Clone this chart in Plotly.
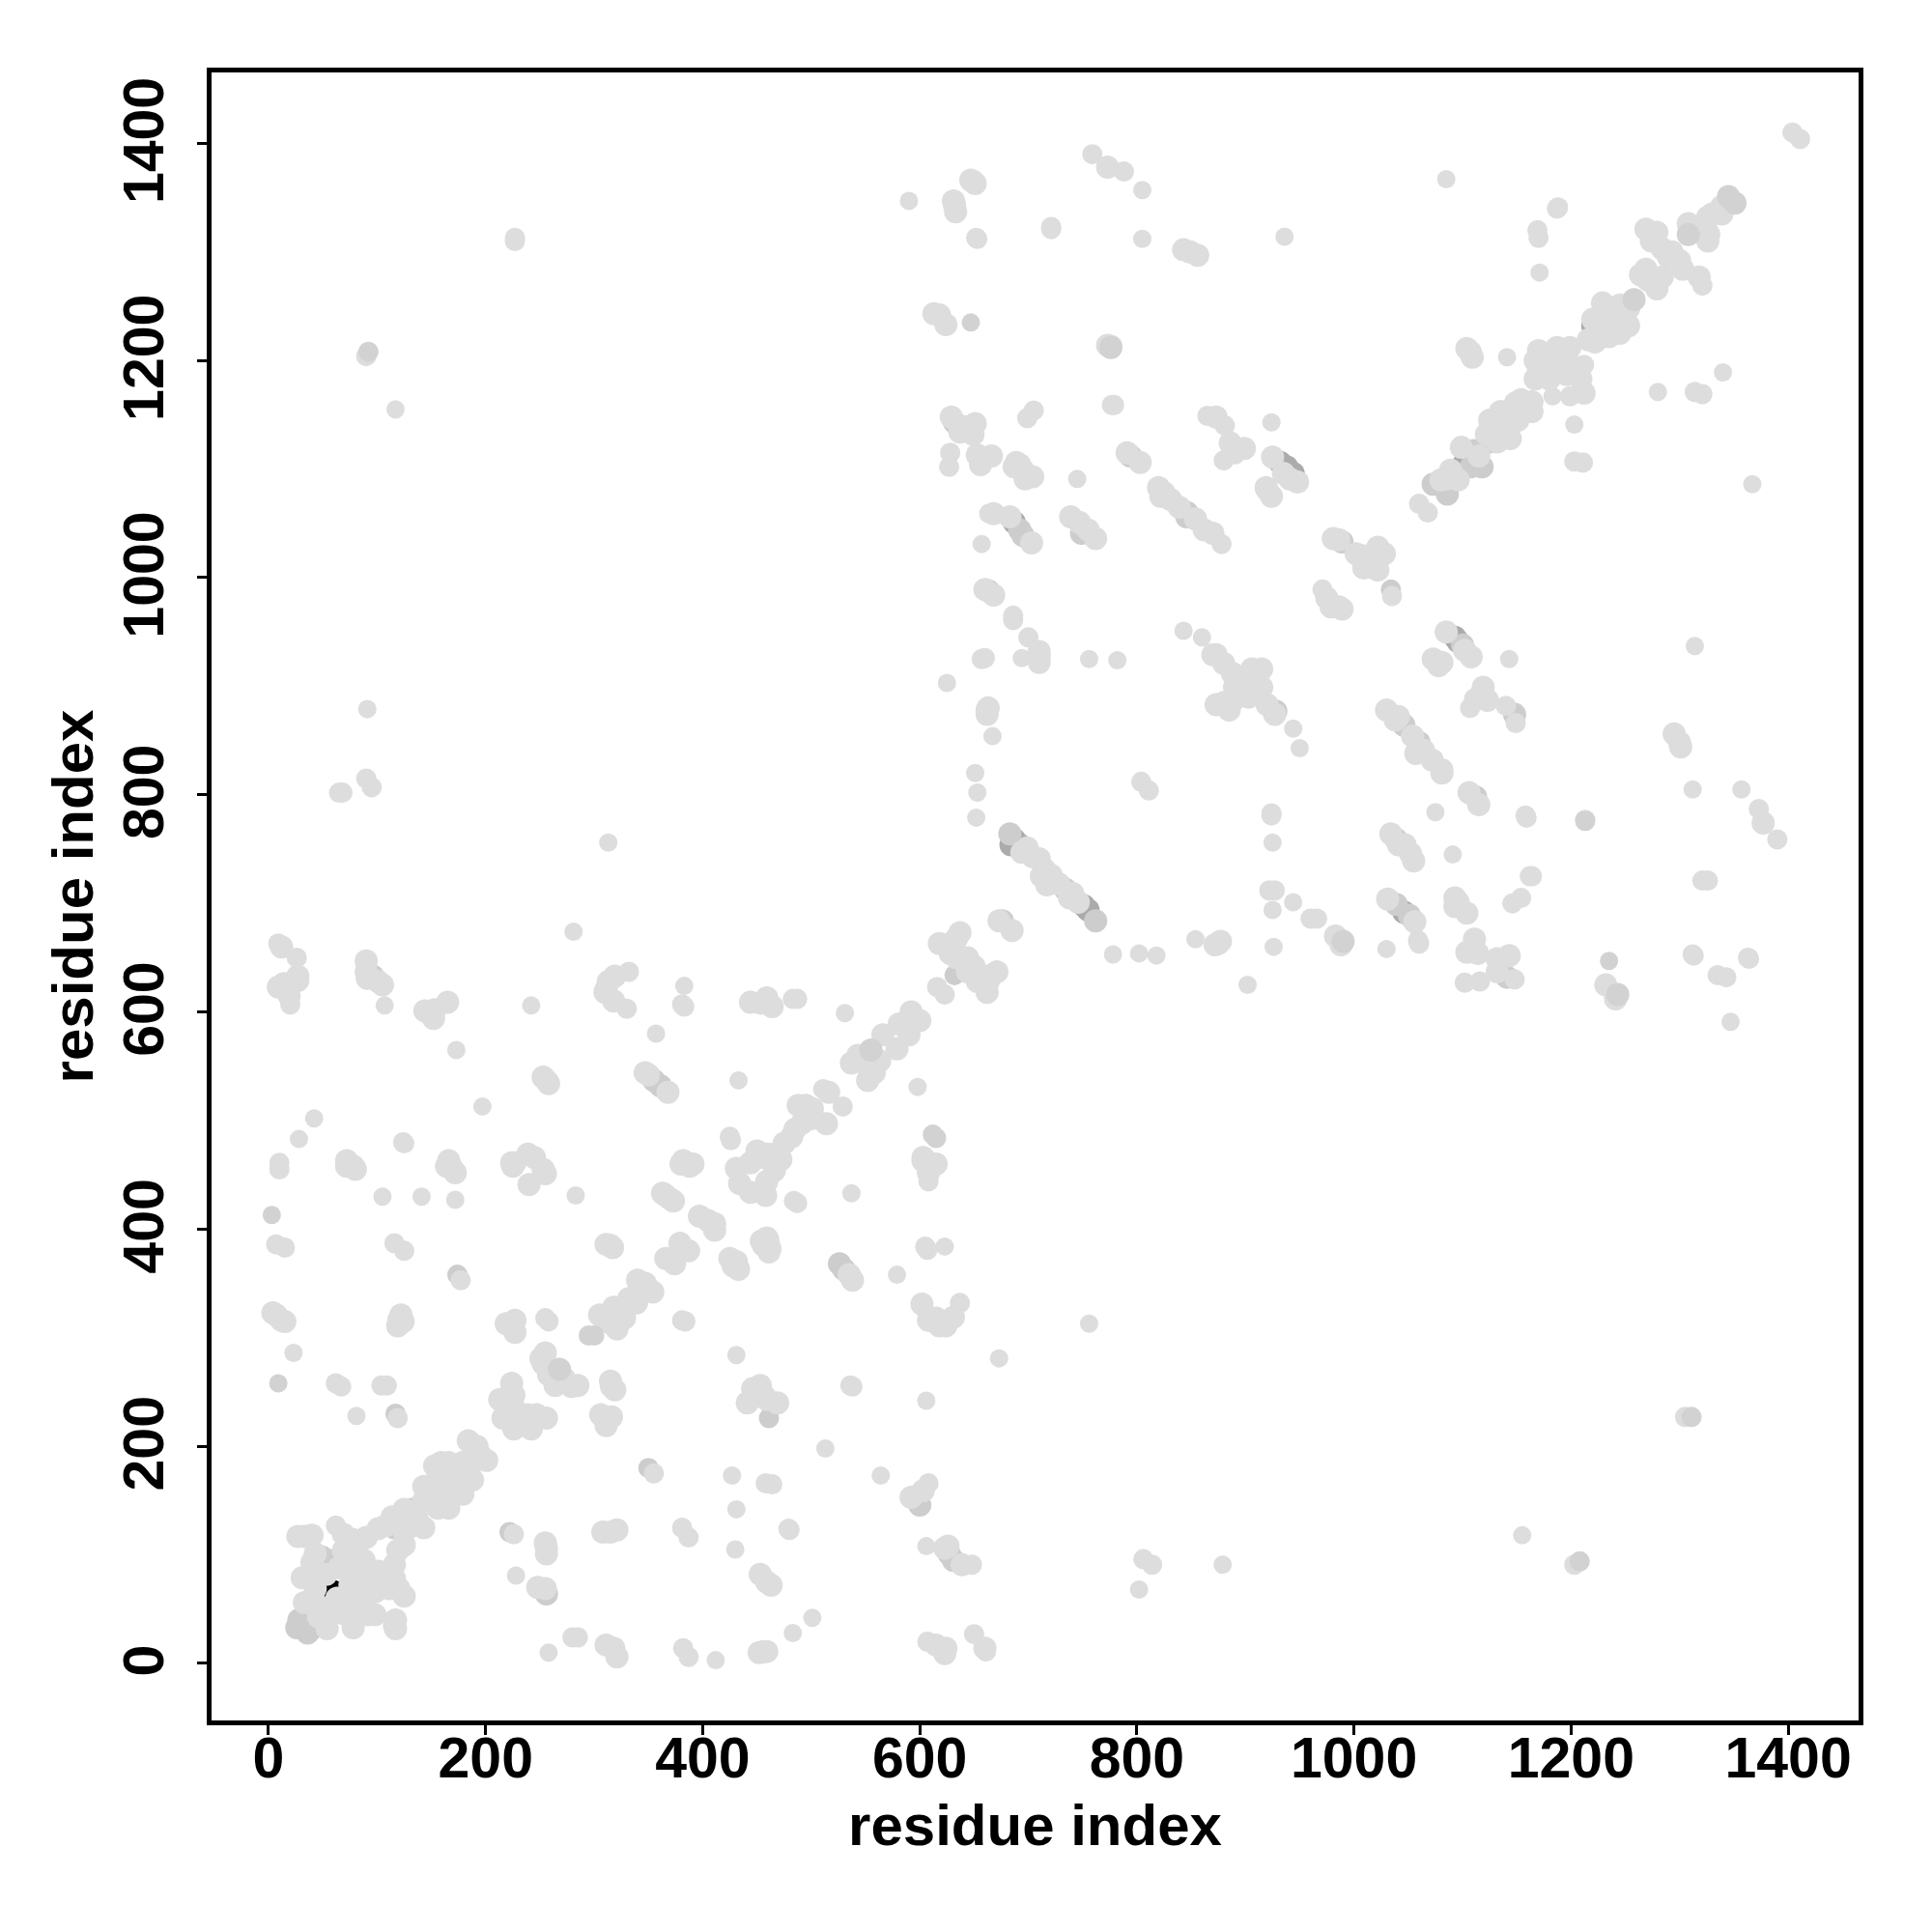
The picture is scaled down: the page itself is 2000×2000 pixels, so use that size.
import plotly.graph_objects as go

FONT = "Liberation Sans"
tick_values = [0, 200, 400, 600, 800, 1000, 1200, 1400]
x_tick_labels = ["0", "200", "400", "600", "800", "1000", "1200", "1400"]
y_tick_labels = ["0\u2009", "200\u2009", "400\u2009", "600\u2009", "800\u2009", "1000\u2009", "1200\u2009", "1400\u2009"]

black_contacts = [(57,67),(60,66),(62,62)]

dark_contacts = [(687,759),(684,754),(692,754),(755,694),(751,698),(932,1106),(938,1102),(944,1096),
 (1093,945),(1096,941),(1046,692),(1187,1200),(1191,1191),(687,1051),(1102,1106),(1220,1232),(904,909)]

mid_contacts = [(28,40),(26,33),(40,32),(36,28),(55,95),(49,98),(116,125),(132,142),(96,633),(361,532),
 (355,537),(222,121),(117,230),(350,180),(174,358),(256,64),(526,368),(530,363),(461,226),(627,101),
 (631,95),(600,146),(632,634),(676,684),(683,764),(734,713),(762,684),(692,1044),(695,1039),(749,1041),
 (846,1060),(846,1056),(794,1112),(632,1143),(1046,864),(1060,848),(1039,759),(1039,699),(1051,689),
 (1100,938),(1112,798),(1108,1102),(1110,1117),(1118,1102),(928,877),(1148,874),(1141,632),(663,988),
 (1125,1125),(1073,1086),(1086,1077),(989,1033),(1034,989)]

light_contacts = [
 # lower-left block
 (10,455),(72,458),(80,455),(165,458),(172,452),(225,458),(240,441),(255,451),(283,431),(380,460),(388,458),
 (434,442),(444,434),(105,430),(141,430),(172,427),(7,386),(15,383),(116,387),(125,380),(311,386),(317,383),
 (315,385),(363,433),(366,431),(370,428),(373,426),(397,412),(405,408),(411,399),(411,405),(366,373),(374,368),
 (379,387),(387,380),(431,370),(433,363),(425,373),(428,366),(454,389),(456,385),(460,390),(462,382),(177,353),
 (12,316),(15,315),(7,321),(4,323),(120,316),(119,311),(122,321),(124,315),(23,286),(67,255),(62,258),(104,256),
 (109,256),(81,228),(119,226),(224,311),(227,316),(227,305),(219,313),(255,318),(258,315),(305,321),(310,318),
 (318,328),(332,336),(339,332),(321,308),(316,313),(328,318),(324,324),(340,353),(347,350),(354,342),(350,345),
 (384,315),(381,316),(431,284),(255,286),(251,281),(258,266),(264,256),(272,263),(285,256),(279,255),(253,276),
 (316,255),(319,252),(315,260),(311,226),(306,229),(316,227),(311,219),(224,258),(226,247),(213,243),(216,226),
 (226,216),(242,216),(256,226),(239,229),(247,229),(226,231),(219,231),(224,250),(227,234),(446,253),(441,240),
 (355,175),(427,173),(431,142),(430,105),(381,125),(387,116),(315,121),(321,123),(308,121),(226,119),(256,106),
 (255,111),(256,101),(228,81),(255,69),(248,70),(285,24),(280,24),(258,10),(311,17),(318,14),(321,6),(382,14),
 (387,6),(452,10),(412,3),
 # first diagonal
 (184,205),(192,200),(201,187),(195,192),(166,185),(179,185),(156,176),(172,172),(185,176),(143,163),(153,163),
 (166,159),(179,156),(143,150),(156,143),(166,143),(188,169),(172,163),(159,185),(153,182),(125,142),(137,133),
 (143,125),(108,127),(125,121),(125,109),(119,104),(133,127),(101,124),(114,135),
 # corner cluster
 (33,117),(40,118),(27,117),(62,127),(69,119),(90,116),(78,114),(43,101),(40,93),(69,104),(82,101),(88,95),
 (65,88),(75,88),(88,85),(101,85),(116,91),(104,75),(116,78),(31,79),(40,78),(43,69),(53,82),(75,72),(88,72),
 (98,66),(111,69),(120,69),(125,62),(85,62),(69,59),(33,56),(43,56),(54,49),(69,46),(78,46),(78,33),(98,45),
 (91,45),(117,40),(117,32),(116,35),(54,32),(88,56),(46,43),(63,60),(66,52),
 # left column, middle
 (91,879),(68,802),(65,802),(90,815),(95,807),(313,756),(281,674),(9,663),(12,660),(26,650),(27,633),(27,629),
 (9,623),(14,626),(17,623),(20,607),(19,615),(90,647),(90,637),(101,628),(105,625),(91,631),(107,606),(144,601),
 (153,602),(152,594),(165,609),(242,606),(311,621),(319,633),(332,637),(318,610),(330,603),(310,618),(313,628),
 (383,624),(383,605),(381,607),(444,609),(459,613),(464,605),(454,608),(483,612),(487,612),(357,580),(173,565),
 (256,537),(253,540),(258,534),(350,542),(368,526),(347,544),(433,537),(197,513),(42,502),(28,483),(124,480),
 (125,479),(425,485),(426,482),(10,461),(72,463),(78,458),(166,463),(164,458),(169,456),(239,469),(224,461),
 (245,466),(253,455),(227,461),(382,463),(391,460),(431,456),(444,461),(452,466),(450,472),
 # lower middle
 (459,444),(458,431),(466,454),(484,426),(487,424),(537,433),(608,444),(608,452),(459,392),(461,384),(461,379),
 (538,353),(535,358),(579,358),(605,384),(607,381),(623,384),(602,331),(637,332),(631,319),(608,316),(618,311),
 (624,311),(615,318),(756,313),(673,281),(536,256),(538,255),(606,242),(453,256),(459,243),(469,240),(456,247),
 (513,198),(564,173),(608,166),(603,159),(592,153),(458,166),(464,165),(479,124),(480,123),(606,108),(623,106),
 (639,91),(648,91),(626,108),(806,96),(814,91),(879,91),(802,68),(459,75),(453,82),(463,72),(501,42),(483,28),
 (459,11),(456,11),(607,20),(650,27),(623,9),(624,14),(615,17),(661,11),(660,14),
 # centre
 (686,961),(700,945),(660,926),(657,925),(694,926),(710,932),(710,922),(710,927),(756,925),(782,924),(843,951),
 (860,945),(625,903),(662,878),(662,874),(663,880),(667,854),(651,820),(653,802),(652,779),(804,812),(811,804),
 (924,783),(924,781),(925,756),(699,751),(704,743),(710,741),(715,731),(721,726),(717,717),(728,718),(741,709),
 (746,701),(738,705),(712,725),(694,747),(927,712),(944,701),(925,694),(922,712),(926,660),(960,686),(854,667),
 (875,663),(877,665),(872,662),(778,653),(802,654),(818,652),(902,625),(637,673),(618,663),(624,662),(634,668),
 (634,650),(644,650),(650,642),(628,654),(652,637),(653,628),(662,618),(671,637),(666,634),(663,628),(644,637),
 (616,623),(623,616),(673,684),(685,675),(531,599),(592,600),(600,592),(581,589),(590,579),(579,566),(566,579),
 (563,555),(537,553),(543,560),(550,552),(558,544),(552,537),(598,531),(511,529),(516,526),(529,513),(495,514),
 (488,514),(501,511),(492,498),(514,497),(482,485),(475,479),(466,469),(459,469),(472,464),(485,492),(501,502),
 (466,463),(603,466),(615,460),(603,463),
 # upper middle
 (759,1390),(773,1378),(788,1374),(805,1357),(649,1365),(647,1366),(651,1363),(590,1347),(632,1343),(633,1337),
 (631,1347),(652,1313),(653,1312),(721,1323),(721,1321),(805,1312),(843,1302),(849,1300),(856,1297),(936,1314),
 (613,1243),(618,1242),(624,1233),(776,1213),(773,1214),(779,1159),(777,1159),(705,1154),(699,1147),(629,1148),
 (651,1142),(637,1134),(649,1132),(642,1139),(628,1115),(627,1102),(653,1113),(656,1104),(666,1112),(689,1106),
 (695,1099),(704,1093),(697,1091),(692,1104),(687,1102),(745,1091),(791,1115),(803,1106),(865,1149),(873,1148),
 (881,1140),(886,1124),(899,1119),(880,1108),(890,1115),(924,1143),(820,1083),(825,1078),(831,1072),(839,1065),
 (854,1054),(862,1044),(870,1041),(878,1031),(822,1075),(925,1111),(935,1096),(941,1091),(948,1088),(920,1081),
 (924,1075),(919,1083),(664,1059),(668,1059),(657,1031),(683,1056),(703,1032),(739,1056),(747,1051),(755,1044),
 (762,1036),(668,984),(660,989),(686,965),
 # right, middle
 (1314,937),(1085,950),(1108,927),(1102,933),(1073,925),(1081,922),(1078,919),(1143,925),(1119,899),(1112,888),
 (1123,887),(1107,880),(1140,882),(1149,866),(1030,878),(1041,872),(1054,854),(1064,841),(1072,832),(1081,823),
 (1081,820),(1038,869),(1057,838),(1295,856),(1300,848),(1301,844),(1106,802),(1115,791),(1075,784),(1159,779),
 (1158,781),(1213,777),(1312,805),(1357,805),(1373,787),(1377,774),(1390,759),(1034,764),(1047,754),(1052,746),
 (1055,739),(1041,754),(1091,745),(1164,725),(1162,725),(1154,705),(1146,700),(1321,721),(1326,721),(1031,704),
 (1056,683),(1093,705),(1096,701),(1104,691),(1093,697),(966,686),(983,670),(988,662),(1030,658),(1059,666),
 (1060,663),(1111,667),(1104,655),(1114,654),(1132,649),(1143,652),(1132,637),(1148,630),(1102,627),(1116,628),
 (1232,625),(1241,612),(1312,653),(1313,652),(1364,649),(1363,650),(1335,634),(1343,632),(1347,591),
 # upper-right diagonal
 (1404,1410),(1411,1404),(1085,1367),(1188,1341),(1187,1340),(1169,1320),(1170,1313),(1171,1281),(1339,1342),
 (1330,1335),(1326,1332),(1339,1335),(1308,1326),(1314,1319),(1326,1310),(1324,1326),(1327,1316),(1269,1321),
 (1279,1318),(1274,1310),(1284,1303),(1293,1300),(1300,1292),(1303,1284),(1290,1295),(1318,1277),(1321,1269),
 (1269,1284),(1264,1279),(1279,1274),(1279,1266),(1284,1277),(1271,1274),(1253,1248),(1229,1253),(1245,1251),
 (1238,1245),(1220,1238),(1229,1235),(1245,1225),(1253,1232),(1235,1222),(1216,1219),(1222,1217),(1170,1209),
 (1187,1212),(1199,1212),(1167,1200),(1212,1196),(1209,1183),(1212,1170),(1199,1167),(1183,1167),(1167,1183),
 (1180,1183),(1196,1187),(1196,1200),(1177,1196),(1170,1193),(1107,1208),(1104,1211),(1109,1203),(1141,1203),
 (1164,1162),(1154,1164),(1149,1161),(1159,1156),(1164,1153),(1135,1153),(1125,1145),(1151,1145),(1144,1128),
 (1132,1125),(1122,1132),(1138,1138),(1154,1154),(1099,1120),(1115,1112),(1089,1099),(1085,1091),(1096,1090),
 (1080,1090),(1060,1068),(1068,1060),(1340,1189),(1203,1141),(1203,1107),(1211,1106),(1280,1171),(1314,1171),
 (1321,1169),(1367,1086),(986,1035),(981,1036),(1022,1028),(1009,1020),(1002,1022),(1018,1009),(1009,1009),
 (1028,1022),(1022,1007),(1035,983),(971,989),(975,981),(986,973),(979,973),(989,971),
 # middle blob
 (873,929),(880,921),(888,912),(906,916),(915,916),(890,899),(915,899),(903,890),(880,885),(885,878),(920,883),
 (927,874),(944,861),(950,843),(890,888),(873,883),(899,893),(911,906),(896,906),(870,929),
 # far corners
 (1305,227),(1155,118),(1203,91),(227,1313),(227,1310),(90,1204),(117,1155)]

mid_top_contacts = [(1311,227),(1208,94),(92,1208),(1345,1351),(1351,1345),(1308,1316),(1258,1256),
 (1235,647),(1243,616),(647,1235),(990,665),(300,302),(295,302),(268,271),(9,258),(3,413),(555,565),(615,484),
 (612,487),(1213,776),(776,1212)]

SERIES = [(black_contacts, "#000000"), (dark_contacts, "#ababab"), (mid_contacts, "#cdcdcd"),
          (light_contacts, "#dddddd"), (mid_top_contacts, "#d2d2d2")]

ALL = [c for group, _ in SERIES for c in group]


def marker_size(c):
    near = sum(1 for o in ALL if o != c and abs(o[0] - c[0]) < 16 and abs(o[1] - c[1]) < 16)
    return 19 if near == 0 else 21 if near == 1 else 24


fig = go.Figure()
for contacts, colour in SERIES:
    fig.add_trace(go.Scatter(x=[c[0] for c in contacts], y=[c[1] for c in contacts], mode="markers",
                             marker=dict(size=[marker_size(c) for c in contacts], color=colour, opacity=1,
                                         line=dict(width=0)),
                             showlegend=False))

tick_font = dict(family=FONT, size=59, color="black", weight="bold")
title_font = dict(family=FONT, size=60, color="black", weight="bold")
axis = dict(showgrid=False, zeroline=False, showline=True, linecolor="black", linewidth=5, mirror=True,
            ticks="outside", ticklen=10, tickwidth=3, tickcolor="black", tickvals=tick_values, tickfont=tick_font)
fig.update_layout(
    width=1984, height=1984, autosize=False, showlegend=False,
    paper_bgcolor="white", plot_bgcolor="white",
    margin=dict(l=211, r=1984 - 1916.5, t=67, b=1984 - 1773),
    xaxis=dict(axis, range=[-52.5, 1464.9], ticktext=x_tick_labels, ticklabelstandoff=-27,
               title=dict(text="residue index", font=title_font, standoff=18)),
    yaxis=dict(axis, range=[-52.5, 1465.3], ticktext=y_tick_labels, tickangle=-90, ticklabelstandoff=11,
               title=dict(text="residue index", font=title_font, standoff=2)),
)
fig.write_html("out.html")
